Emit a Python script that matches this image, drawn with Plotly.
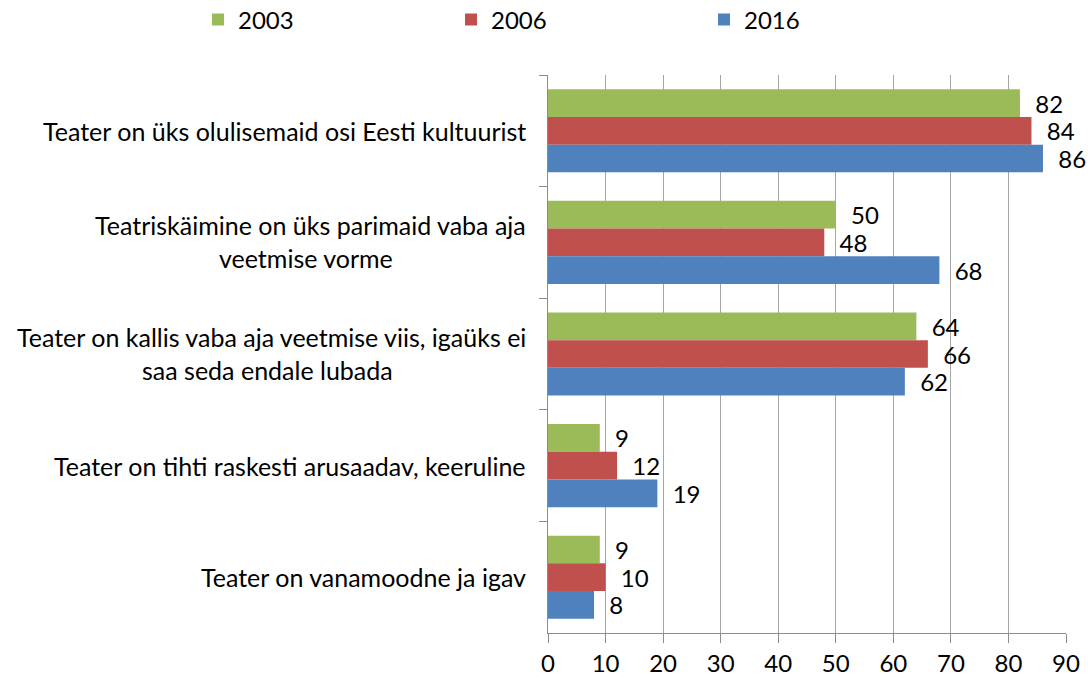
import plotly.graph_objects as go

categories = [
    "Teater on üks olulisemaid osi Eesti kultuurist",
    "Teatriskäimine on üks parimaid vaba aja veetmise vorme",
    "Teater on kallis vaba aja veetmise viis, igaüks ei saa seda endale lubada",
    "Teater on tihti raskesti arusaadav, keeruline",
    "Teater on vanamoodne ja igav",
]
label_lines = [
    ["Teater on üks olulisemaid osi Eesti kultuurist"],
    ["Teatriskäimine on üks parimaid vaba aja", "veetmise vorme"],
    ["Teater on kallis vaba aja veetmise viis, igaüks ei", "saa seda endale lubada"],
    ["Teater on tihti raskesti arusaadav, keeruline"],
    ["Teater on vanamoodne ja igav"],
]
series_names = ["2003", "2006", "2016"]
values_2003 = [82, 50, 64, 9, 9]
values_2006 = [84, 48, 66, 12, 10]
values_2016 = [86, 68, 62, 19, 8]
colors = ["#9BBB59", "#C0504D", "#4F81BD"]
x_ticks = [0, 10, 20, 30, 40, 50, 60, 70, 80, 90]

FONT = "Lato"
FS = 24
LFS = 25
L, R, T, B = 548, 22, 75, 46
W, H = 1088, 679
PW, PH = W - L - R, H - T - B

fig = go.Figure()
for name, vals, col in zip(series_names, [values_2003, values_2006, values_2016], colors):
    fig.add_trace(go.Bar(
        y=categories, x=vals, name=name, orientation="h",
        marker=dict(color=col, line=dict(width=0)),
        text=vals, texttemplate="\u00a0\u00a0%{x}", textposition="outside",
        textfont=dict(family=FONT, size=FS, color="black"),
        constraintext="none", cliponaxis=False,
    ))

annotations = []
for cat, lines in zip(categories, label_lines):
    if len(lines) == 1:
        annotations.append(dict(xref="paper", yref="y", x=0, y=cat, xanchor="right",
                                yanchor="middle", xshift=-20, text=lines[0], showarrow=False,
                                font=dict(family=FONT, size=LFS, color="black")))
    else:
        annotations.append(dict(xref="paper", yref="y", x=0, y=cat, xanchor="right",
                                yanchor="middle", xshift=-20, yshift=17, text=lines[0], showarrow=False,
                                font=dict(family=FONT, size=LFS, color="black")))
        annotations.append(dict(xref="paper", yref="y", x=0, y=cat, xanchor="right",
                                yanchor="middle", xshift=-153, yshift=-16, text=lines[1], showarrow=False,
                                font=dict(family=FONT, size=LFS, color="black")))

fig.update_layout(
    width=W, height=H,
    margin=dict(l=L, r=R, t=T, b=B, autoexpand=False),
    paper_bgcolor="white", plot_bgcolor="white",
    barmode="group", bargap=0.255, bargroupgap=0,
    font=dict(family=FONT, size=FS, color="black"),
    showlegend=True,
    legend=dict(orientation="h", xref="paper", yref="paper",
                x=(198 - L) / PW, xanchor="left", y=1 + (T - 20) / PH, yanchor="middle",
                entrywidth=208, entrywidthmode="pixels",
                font=dict(family=FONT, size=FS, color="black"), itemclick=False),
    annotations=annotations,
)
fig.update_xaxes(
    range=[0, 90], tickvals=x_ticks, showgrid=True, gridcolor="#A6A6A6", gridwidth=1,
    showline=True, linecolor="#8C8C8C", linewidth=1, ticks="outside", ticklen=9,
    tickcolor="#8C8C8C", tickfont=dict(family=FONT, size=FS, color="black"), zeroline=False,
)
fig.update_yaxes(
    autorange="reversed", showticklabels=False, tickson="boundaries", ticks="outside",
    ticklen=8, tickcolor="#8C8C8C", showline=True, linecolor="#8C8C8C", linewidth=1,
    showgrid=False, zeroline=False,
)
fig.write_html("out.html", config={"displayModeBar": False},
               post_script="document.body.style.margin='0';")
